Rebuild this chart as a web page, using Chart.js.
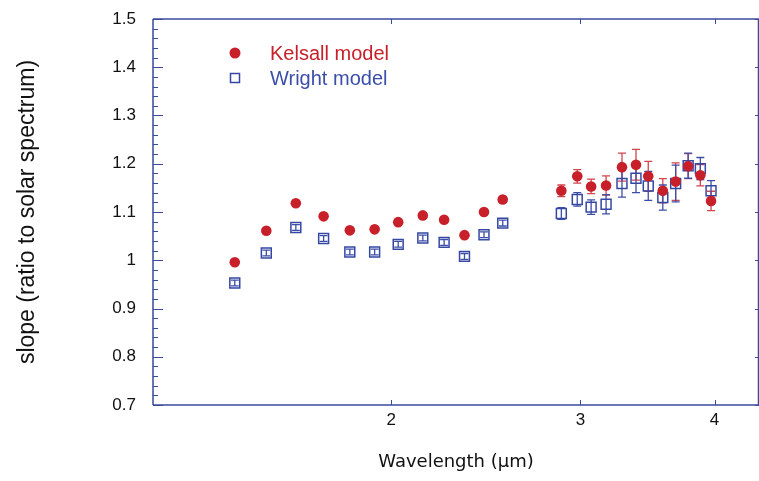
<!DOCTYPE html>
<html>
<head>
<meta charset="utf-8">
<script src="https://cdn.jsdelivr.net/npm/chart.js@4/dist/chart.umd.min.js"></script>
<style>
  html, body { margin: 0; padding: 0; background: #fff; overflow: hidden; }
  canvas { display: block; }
</style>
</head>
<body>
<canvas id="c1" width="759" height="481"></canvas>
<script>
  // data
  var wavelengths = [1.43, 1.53, 1.63, 1.73, 1.83, 1.93, 2.03, 2.14, 2.24, 2.34, 2.44, 2.54,
    2.88, 2.98, 3.07, 3.17, 3.28, 3.38, 3.47, 3.58, 3.68, 3.78, 3.88, 3.97]
  var kelsall = [0.996, 1.061, 1.118, 1.091, 1.062, 1.064, 1.079, 1.093, 1.084, 1.052, 1.100, 1.126,
    1.144, 1.174, 1.153, 1.155, 1.193, 1.198, 1.174, 1.144, 1.163, 1.195, 1.176, 1.123]
  var kelsallErr = [0.004, 0.004, 0.004, 0.004, 0.004, 0.004, 0.004, 0.004, 0.004, 0.004, 0.005, 0.005,
    0.012, 0.014, 0.015, 0.020, 0.029, 0.032, 0.031, 0.025, 0.039, 0.026, 0.022, 0.020]
  var wright = [0.953, 1.015, 1.068, 1.045, 1.017, 1.017, 1.033, 1.046, 1.037, 1.008, 1.053, 1.077,
    1.097, 1.126, 1.110, 1.116, 1.159, 1.170, 1.154, 1.130, 1.159, 1.196, 1.190, 1.144]
  var wrightErr = [0.006, 0.006, 0.006, 0.006, 0.006, 0.006, 0.006, 0.006, 0.006, 0.006, 0.006, 0.006,
    0.012, 0.014, 0.015, 0.020, 0.028, 0.030, 0.030, 0.026, 0.038, 0.026, 0.023, 0.021]
  var xTicks = [2, 3, 4]
  var yMajor = [0.7, 0.8, 0.9, 1.0, 1.1, 1.2, 1.3, 1.4, 1.5]

  var red = '#c8202a'
  var blue = '#3447a3'
  var axisColor = '#3a4a9e'

  function toPoints(ys, errs) {
    return wavelengths.map(function(x, i) {
      return { x: x, y: ys[i], err: errs[i] }
    })
  }

  // keep the plot box fixed, end labels may overhang
  function noPadding(s) {
    s.paddingTop = 0
    s.paddingBottom = 0
    s.paddingLeft = 0
    s.paddingRight = 0
  }

  // error bars, drawn under the markers
  var errorBars = {
    id: 'errorBars',
    beforeDatasetsDraw: function(chart) {
      var ctx = chart.ctx
      var xs = chart.scales.x
      var ys = chart.scales.y
      ctx.save()
      chart.data.datasets.forEach(function(ds) {
        ctx.strokeStyle = ds.barColor
        ctx.lineWidth = 1.3
        ds.data.forEach(function(p) {
          var px = xs.getPixelForValue(p.x)
          var top = ys.getPixelForValue(p.y + p.err)
          var bot = ys.getPixelForValue(p.y - p.err)
          var cap = 4
          ctx.beginPath()
          ctx.moveTo(px, top); ctx.lineTo(px, bot)
          ctx.moveTo(px - cap, top); ctx.lineTo(px + cap, top)
          ctx.moveTo(px - cap, bot); ctx.lineTo(px + cap, bot)
          ctx.stroke()
        })
      })
      ctx.restore()
    }
  }

  // frame with inward ticks, plus the legend in the upper left
  var frame = {
    id: 'frame',
    afterDraw: function(chart) {
      var ctx = chart.ctx
      var a = chart.chartArea
      var xs = chart.scales.x
      var ys = chart.scales.y
      ctx.save()
      ctx.strokeStyle = axisColor
      ctx.lineWidth = 1.5
      ctx.beginPath()
      ctx.moveTo(a.left, a.top); ctx.lineTo(a.right, a.top)
      ctx.moveTo(a.left, a.top); ctx.lineTo(a.left, a.bottom)
      ctx.moveTo(a.left, a.bottom); ctx.lineTo(a.right, a.bottom)
      ctx.moveTo(a.right - 0.5, a.top); ctx.lineTo(a.right - 0.5, a.bottom)
      ctx.stroke()

      ctx.lineWidth = 1
      ctx.beginPath()
      for (var v = 70; v <= 150; v += 2) {
        var py = Math.round(ys.getPixelForValue(v / 100)) + 0.5
        var major = v % 10 === 0
        ctx.moveTo(a.left, py); ctx.lineTo(a.left + (major ? 10 : 5), py)
        if (major) { ctx.moveTo(a.right, py); ctx.lineTo(a.right - 4, py) }
      }
      xTicks.forEach(function(t) {
        var px = Math.round(xs.getPixelForValue(t)) + 0.5
        ctx.moveTo(px, a.bottom); ctx.lineTo(px, a.bottom - 5)
        ctx.moveTo(px, a.top); ctx.lineTo(px, a.top + 5)
      })
      ctx.stroke()

      // legend
      ctx.font = '20px "Liberation Sans", Arial, sans-serif'
      ctx.textBaseline = 'middle'
      ctx.textAlign = 'left'
      chart.data.datasets.forEach(function(ds, i) {
        var ly = 53 + i * 25
        if (ds.pointStyle === 'circle') {
          ctx.fillStyle = ds.backgroundColor
          ctx.beginPath(); ctx.arc(235, ly, 5.5, 0, Math.PI * 2); ctx.fill()
        } else {
          ctx.strokeStyle = ds.borderColor
          ctx.lineWidth = 1.5
          ctx.strokeRect(230.5, ly - 4.5, 9, 9)
        }
        ctx.fillStyle = ds.textColor
        ctx.fillText(ds.label, 270, ly + 1)
      })
      ctx.restore()
    }
  }

  var ctx = document.getElementById('c1')
  var chart1 = new Chart(ctx, {
    type: 'scatter',
    data: {
      datasets: [{
        label: 'Kelsall model',
        data: toPoints(kelsall, kelsallErr),
        pointStyle: 'circle',
        pointRadius: 5.3,
        pointBorderWidth: 0,
        backgroundColor: red,
        borderColor: red,
        barColor: '#d2454d',
        textColor: red
      }, {
        label: 'Wright model',
        data: toPoints(wright, wrightErr),
        pointStyle: 'rect',
        pointRadius: 7,
        pointBorderWidth: 1.5,
        backgroundColor: 'rgba(0,0,0,0)',
        borderColor: blue,
        barColor: '#3d4ea6',
        textColor: '#3a4eaa'
      }]
    },
    options: {
      responsive: false,
      animation: false,
      layout: { autoPadding: false, padding: { top: 19, right: 0, left: 0, bottom: 0 } },
      plugins: { legend: { display: false }, tooltip: { enabled: false } },
      scales: {
        x: {
          type: 'logarithmic',
          min: 1.2,
          max: 4.4,
          afterFit: function(s) { s.height = 76; noPadding(s) },
          afterBuildTicks: function(s) { s.ticks = xTicks.map(function(v) { return { value: v } }) },
          grid: { display: false, drawTicks: false },
          border: { display: false },
          ticks: {
            color: '#111',
            padding: 5,
            maxRotation: 0,
            autoSkip: false,
            font: { family: '"Liberation Sans", Arial, sans-serif', size: 17 },
            callback: function(v) { return String(v) }
          },
          title: {
            display: true,
            text: 'Wavelength (\u03bcm)',
            color: '#111',
            padding: { top: 0, bottom: 8 },
            font: { family: '"DejaVu Sans", sans-serif', size: 18 }
          }
        },
        y: {
          min: 0.7,
          max: 1.5,
          afterFit: function(s) { s.width = 153; noPadding(s) },
          afterBuildTicks: function(s) { s.ticks = yMajor.map(function(v) { return { value: v } }) },
          grid: { display: false, drawTicks: false },
          border: { display: false },
          ticks: {
            color: '#111',
            padding: 17,
            font: { family: '"Liberation Sans", Arial, sans-serif', size: 17 },
            callback: function(v) { return String(Number(v.toFixed(1))) }
          },
          title: {
            display: true,
            text: 'slope (ratio to solar spectrum)',
            color: '#111',
            padding: { top: 14, bottom: 0 },
            font: { family: '"Liberation Sans", Arial, sans-serif', size: 23 }
          }
        }
      }
    },
    plugins: [errorBars, frame]
  })
</script>
</body>
</html>
